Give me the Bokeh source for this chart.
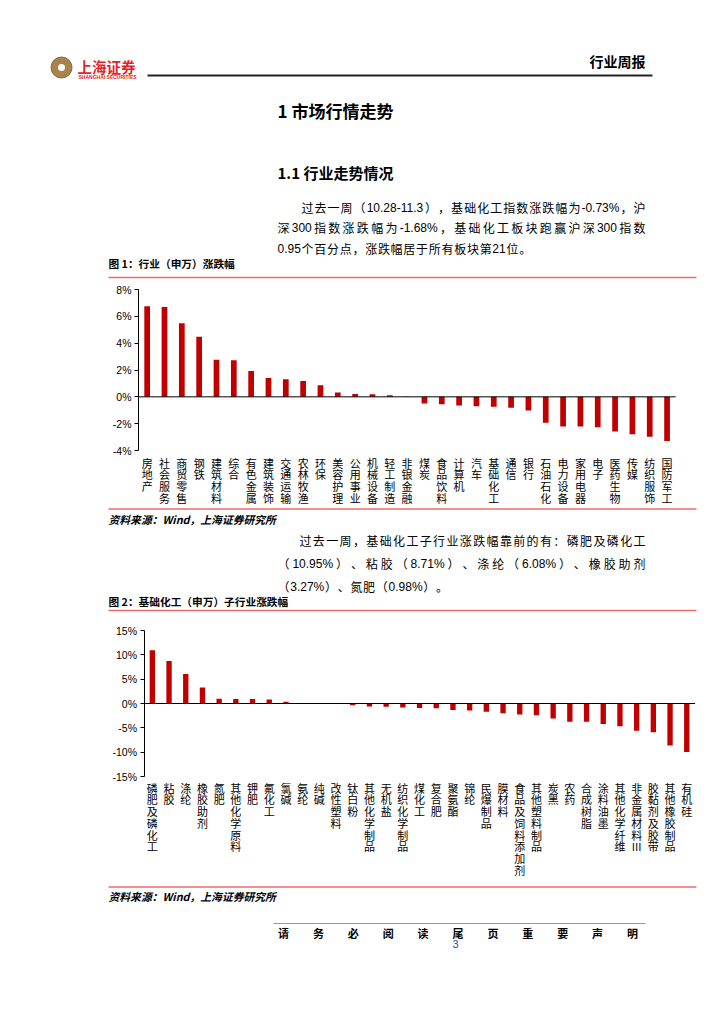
import re
import numpy as np
from bokeh.plotting import figure
from bokeh.layouts import column
from bokeh.models import Range1d, FixedTicker, PrintfTickFormatter
from bokeh.core.properties import value
from bokeh.embed import file_html
from bokeh.resources import INLINE

# ---------------- data ----------------
ind_names = ["房地产", "社会服务", "商贸零售", "钢铁", "建筑材料", "综合", "有色金属", "建筑装饰",
             "交通运输", "农林牧渔", "环保", "美容护理", "公用事业", "机械设备", "轻工制造", "非银金融",
             "煤炭", "食品饮料", "计算机", "汽车", "基础化工", "通信", "银行", "石油石化", "电力设备",
             "家用电器", "电子", "医药生物", "传媒", "纺织服饰", "国防军工"]
ind_chg = [6.75, 6.70, 5.48, 4.48, 2.76, 2.72, 1.93, 1.40, 1.32, 1.18, 0.86, 0.32, 0.21, 0.19,
           0.12, 0.02, -0.50, -0.55, -0.65, -0.71, -0.73, -0.82, -1.02, -1.94, -2.21, -2.21,
           -2.26, -2.58, -2.78, -2.98, -3.30]
ind_ticks = [-4, -2, 0, 2, 4, 6, 8]

sub_names = ["磷肥及磷化工", "粘胶", "涤纶", "橡胶助剂", "氮肥", "其他化学原料", "钾肥", "氟化工",
             "氯碱", "氨纶", "纯碱", "改性塑料", "钛白粉", "其他化学制品", "无机盐", "纺织化学制品",
             "煤化工", "复合肥", "聚氨酯", "锦纶", "民爆制品", "膜材料", "食品及饲料添加剂",
             "其他塑料制品", "炭黑", "农药", "合成树脂", "涂料油墨", "其他化学纤维", "非金属材料III",
             "胶黏剂及胶带", "其他橡胶制品", "有机硅"]
sub_chg = [10.95, 8.71, 6.08, 3.27, 0.98, 0.90, 0.90, 0.83, 0.35, 0.08, 0.02, -0.10, -0.38,
           -0.62, -0.65, -0.80, -0.94, -1.00, -1.35, -1.42, -1.70, -1.98, -2.25, -2.40, -3.08,
           -3.75, -3.75, -4.22, -4.65, -5.60, -5.90, -8.62, -9.98]
sub_ticks = [-15, -10, -5, 0, 5, 10, 15]

para1 = ["过去一周（10.28-11.3），基础化工指数涨跌幅为-0.73%，沪",
         "深 300 指数涨跌幅为-1.68%，基础化工板块跑赢沪深 300 指数",
         "0.95 个百分点，涨跌幅居于所有板块第 21 位。"]
para2 = ["过去一周，基础化工子行业涨跌幅靠前的有：磷肥及磷化工",
         "（10.95%）、粘胶（8.71%）、涤纶（6.08%）、橡胶助剂",
         "（3.27%）、氮肥（0.98%）。"]
title = "1 市场行情走势"
subtitle = "1.1  行业走势情况"
cap1 = "图 1：行业（申万）涨跌幅"
cap2 = "图 2：基础化工（申万）子行业涨跌幅"
source = "资料来源：Wind，上海证券研究所"
header = "行业周报"
footer = "请务必阅读尾页重要声明"
page_no = "3"

# ---------------- style ----------------
W = 716
CJK = "Noto Sans CJK SC"
LAT = "Liberation Sans"
BAR = "#c00000"
RED_LINE = "#ee6a6a"


def page_fig(y0, y1):
    p = figure(width=W, height=y1 - y0, x_range=Range1d(0, W), y_range=Range1d(y1, y0),
               x_axis_location=None, y_axis_location=None, toolbar_location=None,
               output_backend="svg", min_border=0)
    p.grid.visible = False
    p.outline_line_color = None
    return p


def txt(p, x, y, s, size, style="normal", color="#000000", align="left", font=CJK):
    p.text(x=[x], y=[y], text=[s], text_font=value(font), text_font_size=f"{size}px",
           text_font_style=style, text_color=color, text_align=align, text_baseline="middle")


ARIAL_W = {".": 0.278, ",": 0.278, "%": 0.889, "-": 0.333, " ": 0.278}


def tok_width(t, size):
    if t.isascii():
        return sum(ARIAL_W.get(c, 0.556) for c in t) * size
    return size * len(t)


def para(p, lines, xs, ys, right, size):
    for i, (line, x0, y) in enumerate(zip(lines, xs, ys)):
        toks = [t.strip() for t in re.findall(r"[ -~]+|.", line) if t.strip()]
        widths = [tok_width(t, size) for t in toks]
        last = i == len(lines) - 1
        extra = size * 0.06 if last else (right - x0 - sum(widths)) / (len(toks) - 1)
        cx = x0
        lx, ltxt, cxs, ctxt = [], [], [], []
        for t, w in zip(toks, widths):
            if t.isascii():
                lx.append(cx)
                ltxt.append(t)
            else:
                cxs.append(cx)
                ctxt.append(t)
            cx += w + extra
        p.text(x=cxs, y=[y] * len(cxs), text=ctxt, text_font=value(CJK),
               text_font_size=f"{size}px", text_color="#000000", text_align="left",
               text_baseline="middle")
        p.text(x=lx, y=[y] * len(lx), text=ltxt, text_font=value(LAT),
               text_font_size=f"{size}px", text_color="#000000", text_align="left",
               text_baseline="middle")


def hline(p, x0, x1, y, color, width):
    p.segment(x0=[x0], y0=[y], x1=[x1], y1=[y], line_color=color, line_width=width)


def chart(names, vals, ticks, y0, y1, axis_x, pitch, ppu, top_ref, lab_gap, bar_w):
    h = y1 - y0
    tmax, tmin = ticks[-1], ticks[0]
    ytop = tmax + (top_ref - y0) / ppu
    ybot = tmax - (y1 - top_ref) / ppu
    p = figure(width=W, height=h, x_range=Range1d(-axis_x / pitch, (W - axis_x) / pitch),
               y_range=Range1d(ybot, ytop), x_axis_location=None,
               toolbar_location=None, output_backend="svg", min_border=0)
    p.grid.visible = False
    p.outline_line_color = None
    n = len(names)
    xs = np.arange(n) + 0.5
    p.vbar(x=xs, top=vals, bottom=0, width=bar_w, fill_color=BAR, line_color=None)
    p.segment(x0=[0], y0=[0], x1=[n], y1=[0], line_color="#000000", line_width=1)
    # vertical (stacked) category labels
    cx, cy, ct = [], [], []
    step = 11.75
    for i, s in enumerate(names):
        for k, ch in enumerate(re.findall(r"[A-Za-z]+|.", s)):
            cx.append(xs[i])
            cy.append(tmin - (lab_gap + k * step) / ppu)
            ct.append(ch)
    p.text(x=cx, y=cy, text=ct, text_font=value(CJK), text_font_size="11px",
           text_align="center", text_baseline="top", text_color="#000000")
    ax = p.yaxis[0]
    ax.fixed_location = 0
    ax.bounds = (tmin, tmax)
    ax.ticker = FixedTicker(ticks=ticks)
    ax.formatter = PrintfTickFormatter(format="%d%%")
    ax.minor_tick_line_color = None
    ax.major_tick_in = 0
    ax.major_tick_out = 4
    ax.axis_line_color = "#000000"
    ax.major_tick_line_color = "#000000"
    ax.major_label_text_font = LAT
    ax.major_label_text_font_size = "10.5px"
    ax.major_label_text_color = "#000000"
    ax.major_label_standoff = 3
    return p


# ---------------- top text block ----------------
pa = page_fig(0, 281)
pa.scatter(x=[61], y=[67], size=21, marker="circle", fill_color="#a8844c", line_color="#8a6a38")
pa.scatter(x=[61], y=[67], size=7, marker="circle", fill_color="#ffffff", line_color=None)
txt(pa, 77, 65.5, "上海证券", 14.5, "bold", "#e5232b")
txt(pa, 78, 76.5, "SHANGHAI SECURITIES", 5, "bold", "#e5232b", font=LAT)
hline(pa, 147, 652, 75, "#222222", 2)
txt(pa, 645, 60, header, 14, "bold", align="right")
txt(pa, 277, 110, title, 17, "bold")
txt(pa, 277, 172, subtitle, 15, "bold")
para(pa, para1, [301, 277, 277], [207, 227, 248], 645, 12)
txt(pa, 108, 263, cap1, 10.7, "bold")
hline(pa, 108, 696, 277, RED_LINE, 1.5)

# ---------------- chart 1 ----------------
pb = chart(ind_names, ind_chg, ind_ticks, 281, 507, 138, 17.33, 13.417, 289, 4, 0.33)

# ---------------- middle text block ----------------
pc = page_fig(507, 614)
hline(pc, 108, 696, 508.5, RED_LINE, 1.5)
txt(pc, 108, 518, source, 10.8, "bold italic")
para(pc, para2, [299, 277, 277], [540, 563, 586], 645, 12)
txt(pc, 108, 601, cap2, 10.7, "bold")
hline(pc, 108, 696, 610, RED_LINE, 1.5)

# ---------------- chart 2 ----------------
pd_ = chart(sub_names, sub_chg, sub_ticks, 614, 884, 143.5, 16.7, 4.867, 630, 3, 0.32)

# ---------------- bottom text block ----------------
pe = page_fig(884, 1010)
hline(pe, 108, 696, 886.5, RED_LINE, 1.5)
txt(pe, 108, 895, source, 10.8, "bold italic")
hline(pe, 273, 645, 923, "#999999", 1)
fx = np.linspace(283, 632, len(footer))
pe.text(x=fx, y=[932] * len(footer), text=list(footer), text_font=value(CJK),
        text_font_size="11px", text_font_style="bold", text_align="center",
        text_baseline="middle", text_color="#000000")
txt(pe, 455, 943, page_no, 11, color="#1f4e9c", align="center", font=LAT)

layout = column(pa, pb, pc, pd_, pe, spacing=0)
open("out.html", "w").write(file_html(layout, INLINE))
